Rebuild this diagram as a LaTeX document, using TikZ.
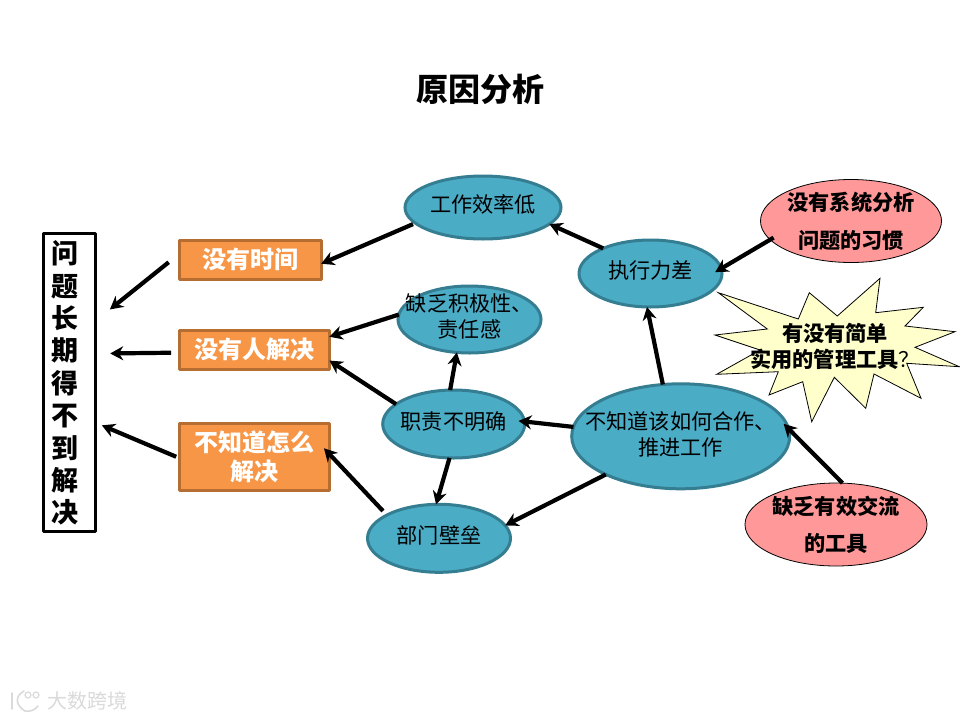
\documentclass[tikz,border=0pt]{standalone}
\usepackage{fontspec}
\setmainfont{Noto Sans CJK SC}
\usetikzlibrary{arrows.meta,shapes.geometric}
\definecolor{teal1}{HTML}{4BACC6}
\definecolor{teal2}{HTML}{357D91}
\definecolor{pink1}{HTML}{FF9999}
\definecolor{orange1}{HTML}{F79646}
\definecolor{orange2}{HTML}{B66D31}
\definecolor{star1}{HTML}{FFFFCC}
\definecolor{mark1}{HTML}{DADADA}
\newcommand\lift[2]{\makebox[0pt]{\raisebox{\dimexpr#1-0.25em\relax}[0pt][0pt]{\parbox{300pt}{\centering #2}}}}
\tikzset{
  fs/.style 2 args={font=\fontsize{#1}{#2}\selectfont},
  fsb/.style 2 args={font=\fontsize{#1}{#2}\selectfont\bfseries},
  blue ell/.style={ellipse,draw=teal2,fill=teal1,line width=3pt,inner sep=0pt,outer sep=0pt,text=black,fs={21.2}{25.6}},
  pink ell/.style={ellipse,draw=black,fill=pink1,line width=0.8pt,inner sep=0pt,outer sep=0pt,fsb={21.2}{37.5}},
  orange box/.style={rectangle,draw=orange2,fill=orange1,line width=3pt,line join=round,inner sep=0pt,outer sep=0pt,text=white,fsb={24}{29}},
  main box/.style={rectangle,draw=black,fill=white,line width=3pt,line join=round,inner sep=0pt,outer sep=0pt,fsb={27}{32.4}},
  arr/.style={draw=black,line width=4.2pt,-{Stealth[length=13pt,width=14pt]}},
  burst/.style={draw=black,fill=star1,line width=0.8pt,line join=miter},
  wm/.style={draw=mark1,line width=1.6pt,line cap=round}
}
\begin{document}
\begin{tikzpicture}[x=1pt,y=-1pt]
\useasboundingbox[fill=white] (0,0) rectangle (960,720);
\node[fsb={32}{38}] (title) at (480,88) {\lift{0pt}{原因分析}};
% burst
\draw[burst] (718.3,292.7)--(798.3,319)--(809.3,292.7)--(837.3,316)--(880,278.3)--(875.7,312.7)--(923.3,307.3)--(905,326)--(955,331.7)--(915,347.3)--(959.3,366.7)--(906.7,363.3)--(921,398.3)--(874,374)--(865.7,408.3)--(834.3,377.3)--(811.7,421.7)--(802.7,381.7)--(769,395)--(778.3,371.7)--(716.7,374.3)--(760,350)--(715,335)--(767.3,329)--cycle;
\node[fsb={21.2}{26}] (ask) at (835,346.3) {\lift{0pt}{有没有简单\\实用的管理工具{\mdseries ？}}};
% nodes
\node[main box,minimum width=52pt,minimum height=298.6pt] (lb) at (69.2,382.5) {\makebox[0pt]{\hspace*{-8.6pt}\lift{0pt}{问\\题\\长\\期\\得\\不\\到\\解\\决}}};
\node[orange box,minimum width=142pt,minimum height=38.4pt] (b1) at (250.2,260) {\lift{0pt}{没有时间}};
\node[orange box,minimum width=150.3pt,minimum height=38.4pt] (b2) at (254.3,350) {\lift{0pt}{没有人解决}};
\node[orange box,minimum width=150.3pt,minimum height=67pt] (b3) at (254.3,456.7) {\lift{0pt}{不知道怎么\\解决}};
\node[blue ell,minimum width=156pt,minimum height=63pt] (gx) at (483,207.5) {\lift{3pt}{工作效率低}};
\node[blue ell,minimum width=143pt,minimum height=67pt] (zx) at (650.5,273.5) {\lift{3pt}{执行力差}};
\node[blue ell,minimum width=143pt,minimum height=67pt] (que) at (469.5,319.5) {\lift{3pt}{缺乏积极性、\\责任感}};
\node[blue ell,minimum width=142pt,minimum height=68pt] (zz) at (453.7,424) {\lift{2.5pt}{职责不明确}};
\node[blue ell,minimum width=218pt,minimum height=105pt] (nb) at (680.7,436.3) {\lift{2pt}{不知道该如何合作、\\推进工作}};
\node[blue ell,minimum width=143pt,minimum height=68pt] (bm) at (439,538.3) {\lift{3pt}{部门壁垒}};
\node[pink ell,minimum width=181pt,minimum height=83pt] (p1) at (851,221) {\lift{0pt}{没有系统分析\\问题的习惯}};
\node[pink ell,minimum width=182pt,minimum height=83pt] (p2) at (836,524.5) {\lift{0pt}{缺乏有效交流\\的工具}};
% connectors
\draw[arr,shorten <=2.5pt] (gx.193) -- (b1.-3);
\draw[arr] (zx.152) -- (gx.-14);
\draw[arr,shorten <=-4pt,shorten >=-7pt] (p1.193) -- (zx.4);
\draw[arr] (nb.109.5) -- (zx.-96);
\draw[arr,shorten >=-6pt] (nb.175.3) -- (zz.2);
\draw[arr] (que.176.5) -- (b2.10);
\draw[arr] (zz.161) -- (b2.-8);
\draw[arr] (zz.96) -- (que.-111);
\draw[arr] (zz.-97) -- (bm.95);
\draw[arr] (nb.207) -- (bm.11.6);
\draw[arr,shorten <=5.6pt,shorten >=-8pt] (bm.156) -- (b3.2);
\draw[arr,shorten >=-7pt] (p2.81) -- (nb.4.5);
\draw[arr,shorten <=13.5pt,shorten >=18.8pt] (b1.175.2) -- (lb.67.6);
\draw[arr,shorten <=8pt,shorten >=15pt] (b2.182.5) -- (lb.48.3);
\draw[arr,shorten <=3.2pt,shorten >=7.2pt] (b3.181.8) -- (lb.-57.6);
% watermark
\draw[wm] (12,693) -- (12,709);
\draw[wm] (24,691) .. controls (15,696) and (15,705) .. (25,711) .. controls (30,712) and (35,710) .. (38,706);
\draw[wm,line width=1.2pt] (28,695) circle (3pt) (36,695) circle (3pt);
\node[text=mark1,fs={20}{24}] (mark) at (87,701) {\lift{0pt}{大数跨境}};
\end{tikzpicture}
\end{document}
